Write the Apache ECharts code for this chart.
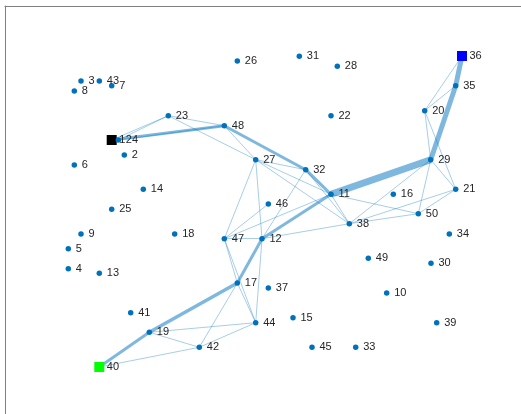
<!DOCTYPE html>
<html>
<head>
<meta charset="utf-8">
<script src="https://cdn.jsdelivr.net/npm/echarts@6/dist/echarts.min.js"></script>
<style>
  html, body { margin: 0; padding: 0; background: #ffffff; }
  #chart { width: 521px; height: 414px; }
</style>
</head>
<body>
<div id="chart"></div>
<script>
// Node ids and layout coordinates (plot units)
const nodeIds = ['1','2','3','4','5','6','7','8','9','10',
  '11','12','13','14','15','16','17','18','19','20',
  '21','22','23','24','25','26','27','28','29','30',
  '31','32','33','34','35','36','37','38','39','40',
  '41','42','43','44','45','46','47','48','49','50'];
const nodeX = [106.7,119.3,76,63.3,63.3,69.3,106.7,69.3,76,381.7,
  326,257,94.3,138.3,288,388.3,232.3,169.7,144.3,419.7,
  450.7,326,163.3,113.3,106.7,232.3,250.7,332.3,425.7,426,
  294.3,300.7,350.7,444.3,450.7,457,263.3,344.3,431.7,94.3,
  125.7,194.3,94.3,250.7,307,263.3,219.3,219.3,363.3,413.3];
const nodeY = [134,149,75,262.7,242.7,159,79.7,85,228,287,
  188.3,232.7,267.3,183.3,311.7,188.3,277,228,326.3,104.7,
  183.3,109.7,109.7,134,203.3,55,153.7,60.3,153.7,257.3,
  50.3,163.7,341.3,228,79.7,50,282,217.7,316.7,361,
  306.7,341.3,75,316.7,341.3,198,232.7,119.7,252.3,207.7];

// Special end nodes
const startNode = '1';
const sourceNode = '40';
const targetNode = '36';

// Edge list and weights
const edgeSource = ['1','48','32','11','29','35','11','12','17','19',
  '1','24','24','23','23','48','27','27','27','27','27',
  '32','32','11','11','11','46','47','47','47','12','12',
  '17','17','19','19','42','42','29','29','29','29',
  '20','20','20','21','21','38'];
const edgeTarget = ['48','32','11','29','35','36','12','17','19','40',
  '23','23','48','48','27','27','32','11','38','47','12',
  '38','12','47','38','50','47','12','17','44','38','44',
  '44','42','44','42','40','44','20','21','50','38',
  '35','36','21','50','38','50'];
const edgeWeight = [3,3,3,7,5,5,3,3,3.5,3,
  1,1,1,1,1,1,1,1,1,1,1,
  1,1,1,1,1,1,1,1,1,1,1,
  1,1,1,1,1,1,1,1,1,1,
  1,1,1,1,1,1];

const BLUE = '#0072BD';

function nodeStyle(id) {
  if (id === startNode) return { symbol: 'rect', size: 10, color: '#000000' };
  if (id === sourceNode) return { symbol: 'rect', size: 10, color: '#00FF00' };
  if (id === targetNode) return { symbol: 'rect', size: 10, color: '#0000FF' };
  return { symbol: 'circle', size: 5.5, color: BLUE };
}

const nodes = nodeIds.map((id, i) => {
  const s = nodeStyle(id);
  return {
    name: id,
    value: [nodeX[i], nodeY[i]],
    symbol: s.symbol,
    symbolSize: s.size,
    itemStyle: { color: s.color },
    label: { distance: 7.5 - s.size / 2 }
  };
});

const links = edgeSource.map((s, i) => ({
  source: s,
  target: edgeTarget[i],
  lineStyle: {
    width: edgeWeight[i] > 1 ? edgeWeight[i] : 0.7,
    opacity: 0.5
  }
}));

const chart = echarts.init(document.getElementById('chart'), null, { renderer: 'canvas' });
chart.setOption({
  animation: false,
  backgroundColor: '#ffffff',
  grid: { left: 5, top: 6, right: 0, bottom: 0 },
  xAxis: {
    type: 'value', min: 0, max: 516, position: 'top',
    axisLine: { show: true, onZero: false, lineStyle: { color: '#808080', width: 1 } },
    axisTick: { show: false }, axisLabel: { show: false }, splitLine: { show: false }
  },
  yAxis: {
    type: 'value', min: 0, max: 408, inverse: true,
    axisLine: { show: true, onZero: false, lineStyle: { color: '#808080', width: 1 } },
    axisTick: { show: false }, axisLabel: { show: false }, splitLine: { show: false }
  },
  series: [{
    type: 'graph',
    coordinateSystem: 'cartesian2d',
    data: nodes,
    links: links,
    lineStyle: { color: BLUE, opacity: 0.5, curveness: 0 },
    label: {
      show: true,
      position: 'right',
      color: '#262626',
      fontSize: 11,
      fontFamily: 'Liberation Sans, Arial, Helvetica, sans-serif'
    },
    emphasis: { disabled: true }
  }]
});
</script>
</body>
</html>
